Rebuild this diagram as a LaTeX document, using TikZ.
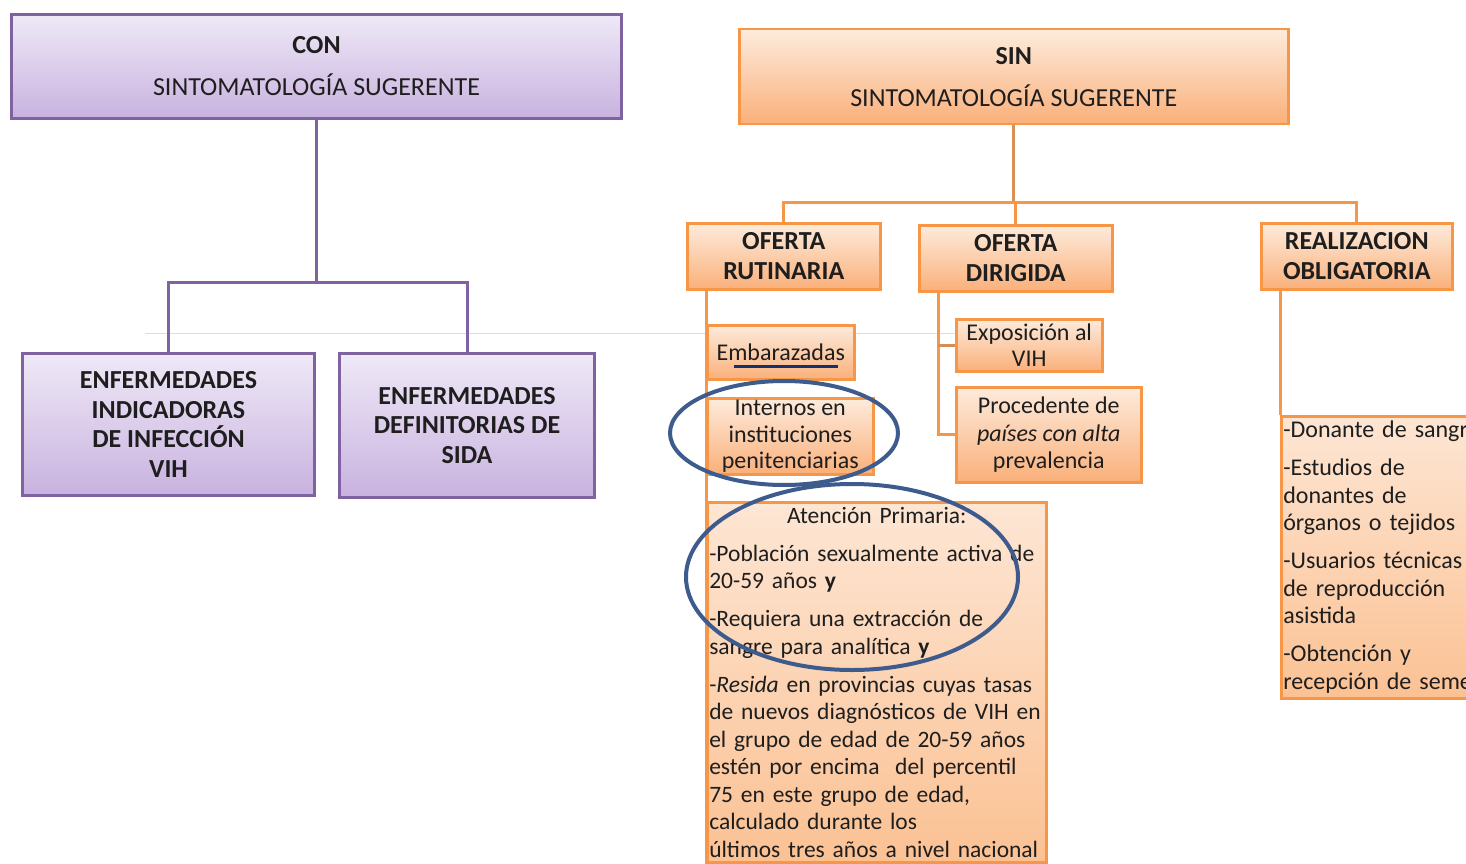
\documentclass[tikz,border=0pt]{standalone}
\usepackage{fontspec}
\setmainfont{Carlito}
\usepackage{xcolor}
\definecolor{conborder}{HTML}{7F63A1}
\definecolor{contop}{HTML}{EFE9F7}
\definecolor{conbottom}{HTML}{C8B2DF}
\definecolor{sinborder}{HTML}{F79646}
\definecolor{sintop}{HTML}{FDEBDC}
\definecolor{sinbottom}{HTML}{FAB07A}
\definecolor{softtop}{HTML}{FDE6D4}
\definecolor{softbottom}{HTML}{FBC193}
\definecolor{ringblue}{HTML}{3D5B8C}
\definecolor{navyline}{HTML}{14306E}
\definecolor{inkgrey}{HTML}{1E1E1E}
\newcommand\hdfont{\fontsize{26}{30}\selectfont}
\newcommand\bdfont{\fontsize{24}{27.5}\selectfont}
\tikzset{%
    conbox/.style={draw=conborder, line width=3, top color=contop, bottom color=conbottom, text=inkgrey, align=center, inner sep=0, anchor=north west, font=\hdfont},
    sinbox/.style={draw=sinborder, line width=2.5, top color=sintop, bottom color=sinbottom, text=inkgrey, align=center, inner sep=0, anchor=north west, font=\hdfont},
    subbox/.style={sinbox, font=\bdfont},
    listbox/.style={draw=sinborder, line width=2.5, top color=softtop, bottom color=softbottom, text=inkgrey, align=left, inner xsep=3, inner ysep=5, anchor=north west, font=\bdfont},
    conline/.style={draw=conborder, line width=3},
    sinline/.style={draw=sinborder, line width=3},
    ring/.style={draw=ringblue, line width=4},
    underl/.style={draw=navyline, line width=3.5}
}

\begin{document}
\begin{tikzpicture}[x=1pt, y=-1pt]
    \useasboundingbox (0,0) rectangle (1466,864);
    \clip (0,0) rectangle (1466,864);
    \fill[white] (0,0) rectangle (1466,864);
    % stray guide line
    \draw[red!20!gray!25, line width=0.8] (145,333) -- (955,333);
    % con
    \node[conbox, minimum width=610, minimum height=104] (con) at (10,13) {\textbf{CON}\\[12pt]SINTOMATOLOGÍA SUGERENTE};
    \node[conbox, minimum width=292, minimum height=142, font=\fontsize{26}{29.7}\selectfont\bfseries] (enf1) at (21,352) {ENFERMEDADES\\INDICADORAS\\DE INFECCIÓN\\VIH};
    \node[conbox, minimum width=255, minimum height=144, font=\fontsize{26}{29.5}\selectfont\bfseries] (enf2) at (338,352) {ENFERMEDADES\\DEFINITORIAS DE\\SIDA};
    % sin
    \node[sinbox, minimum width=549, minimum height=95] (sin) at (738,28) {\textbf{SIN}\\[12pt]SINTOMATOLOGÍA SUGERENTE};
    \node[sinbox, minimum width=193, minimum height=66, font=\hdfont\bfseries] (rut) at (686,222) {OFERTA\\RUTINARIA};
    \node[sinbox, minimum width=193, minimum height=66, font=\hdfont\bfseries] (dir) at (918,224) {OFERTA\\DIRIGIDA};
    \node[sinbox, minimum width=191, minimum height=66, font=\hdfont\bfseries] (real) at (1260,222) {REALIZACION\\OBLIGATORIA};
    \node[subbox, minimum width=147, minimum height=54] (emb) at (706,324) {Embarazadas};
    \node[subbox, minimum width=166, minimum height=76, font=\fontsize{24}{26.5}\selectfont] (intern) at (706,397) {Internos en\\instituciones\\penitenciarias};
    \node[subbox, minimum width=146, minimum height=52, font=\fontsize{24}{26}\selectfont] (expo) at (955,318) {Exposición al\\VIH};
    \node[subbox, minimum width=185, minimum height=95] (proc) at (955,386) {Procedente de\\\textit{países con alta}\\prevalencia};
    \node[listbox, text width=335, inner xsep=2, font=\fontsize{23.5}{27.5}\selectfont] (ap) at (706,501) {\makebox[\linewidth][c]{Atención Primaria:}\\[10.5pt]-Población sexualmente activa de\\20-59 años \textbf{y}\\[10.5pt]-Requiera una extracción de\\sangre para analítica \textbf{y}\\[10.5pt]-\textit{Resida} en provincias cuyas tasas\\de nuevos diagnósticos de VIH en\\el grupo de edad de 20-59 años\\estén por encima~ del percentil\\75 en este grupo de edad,\\calculado durante los\\últimos tres años a nivel nacional};
    \node[listbox, text width=230, inner xsep=2] (list) at (1280,415) {-Donante de sangre\\[10.5pt]-Estudios de\\donantes de\\órganos o tejidos\\[10.5pt]-Usuarios técnicas\\de reproducción\\asistida\\[10.5pt]-Obtención y\\recepción de semen};
    % connectors
    \coordinate (conhub) at (con.south |- 0,282);
    \draw[conline] (con.south) -- (conhub);
    \draw[conline] (enf1.north) |- (conhub) -| (enf2.north);
    \coordinate (sinhub) at (sin.south |- 0,202);
    \draw[sinline, draw=sinborder!75!gray] (sin.south) -- (sinhub);
    \draw[sinline] (rut.north) |- (sinhub) -| (real.north);
    \draw[sinline] (sinhub) -| (dir.north);
    \draw[sinline] (emb.west |- rut.south) -- (ap.south west);
    \coordinate (dirstem) at (938,290);
    \draw[sinline] (dirstem) |- (proc.west);
    \draw[sinline, draw=sinborder!70!gray] (dirstem |- expo.west) -- (expo.west);
    \draw[sinline] (list.west |- real.south) -- (list.north west);
    % marks
    \draw[underl] ([shift={(-47,14)}]emb.center) -- ([shift={(57,14)}]emb.center);
    \draw[ring] (784,433) ellipse [x radius=114pt, y radius=52pt];
    \draw[ring] (852,577) ellipse [x radius=166pt, y radius=93pt];
\end{tikzpicture}
\end{document}
